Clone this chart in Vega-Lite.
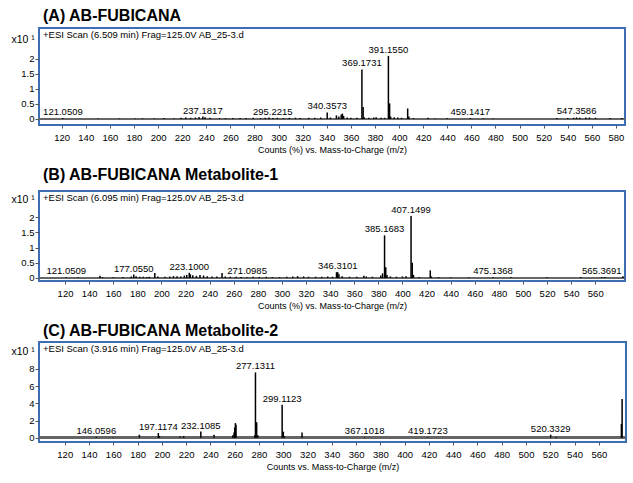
{
  "$schema": "https://vega.github.io/schema/vega-lite/v6.json",
  "padding": {"left": 10, "top": 6, "right": 8, "bottom": 4},
  "background": "white",
  "config": {
    "font": "Liberation Sans",
    "view": {"stroke": "#3d6db5", "strokeWidth": 2},
    "axis": {"labelFont": "Liberation Sans", "labelFontSize": 9.5, "labelColor": "#000", "labelOverlap": false, "labelFlush": false, "tickColor": "#555", "domain": false, "grid": false, "titleFont": "Liberation Sans", "titleFontWeight": "normal", "titleFontSize": 9, "titleColor": "#000", "tickSize": 3},
    "axisY": {"titleAngle": 0, "titleX": -28, "titleAlign": "left", "titleBaseline": "middle", "titleFontSize": 10.5, "tickSize": 4, "labelPadding": 1},
    "axisX": {"labelPadding": 4, "titlePadding": 4},
    "concat": {"spacing": 9},
    "title": {"anchor": "start", "frame": "group", "fontSize": 16, "fontWeight": "bold", "color": "#000", "subtitleFontSize": 9.5, "subtitleColor": "#000", "subtitleFont": "Liberation Sans", "offset": -11, "subtitlePadding": 6, "dx": 4}
  },
  "datasets": {
    "a": [
      {"mz": 121.0509, "i": 0.03, "lab": "121.0509"},
      {"mz": 150, "i": 0.02}, {"mz": 168, "i": 0.02}, {"mz": 181, "i": 0.02}, {"mz": 187, "i": 0.02},
      {"mz": 197, "i": 0.02}, {"mz": 205, "i": 0.03}, {"mz": 213, "i": 0.02}, {"mz": 219, "i": 0.04},
      {"mz": 223, "i": 0.05}, {"mz": 227, "i": 0.04}, {"mz": 231, "i": 0.05}, {"mz": 234, "i": 0.07},
      {"mz": 237.1817, "i": 0.08, "lab": "237.1817"},
      {"mz": 239, "i": 0.06}, {"mz": 243, "i": 0.04}, {"mz": 251, "i": 0.03}, {"mz": 256, "i": 0.03},
      {"mz": 262, "i": 0.03}, {"mz": 268, "i": 0.03}, {"mz": 273, "i": 0.03}, {"mz": 279, "i": 0.04},
      {"mz": 285, "i": 0.03}, {"mz": 289, "i": 0.04}, {"mz": 292, "i": 0.05},
      {"mz": 295.2215, "i": 0.03, "lab": "295.2215"},
      {"mz": 299, "i": 0.04}, {"mz": 304, "i": 0.03}, {"mz": 309, "i": 0.04}, {"mz": 314, "i": 0.04},
      {"mz": 318, "i": 0.03}, {"mz": 325, "i": 0.04}, {"mz": 330, "i": 0.04}, {"mz": 335, "i": 0.05},
      {"mz": 340.3573, "i": 0.22, "lab": "340.3573"},
      {"mz": 343, "i": 0.05}, {"mz": 348, "i": 0.12}, {"mz": 350, "i": 0.08}, {"mz": 352, "i": 0.15},
      {"mz": 353, "i": 0.18}, {"mz": 354, "i": 0.1}, {"mz": 357, "i": 0.05}, {"mz": 360, "i": 0.04},
      {"mz": 365, "i": 0.04},
      {"mz": 369.1731, "i": 1.65, "lab": "369.1731"},
      {"mz": 370.18, "i": 0.4}, {"mz": 371, "i": 0.06}, {"mz": 375, "i": 0.04}, {"mz": 379, "i": 0.05},
      {"mz": 381, "i": 0.06}, {"mz": 385, "i": 0.04}, {"mz": 388, "i": 0.04},
      {"mz": 391.155, "i": 2.1, "lab": "391.1550"},
      {"mz": 392.16, "i": 0.52}, {"mz": 393, "i": 0.08}, {"mz": 396, "i": 0.06}, {"mz": 399, "i": 0.05},
      {"mz": 402, "i": 0.04}, {"mz": 407.15, "i": 0.35}, {"mz": 408.15, "i": 0.08}, {"mz": 412, "i": 0.03},
      {"mz": 424, "i": 0.04}, {"mz": 430, "i": 0.02}, {"mz": 440, "i": 0.03},
      {"mz": 459.1417, "i": 0.03, "lab": "459.1417"},
      {"mz": 470, "i": 0.02}, {"mz": 478, "i": 0.02}, {"mz": 531, "i": 0.03}, {"mz": 540, "i": 0.03},
      {"mz": 545, "i": 0.04},
      {"mz": 547.3586, "i": 0.05, "lab": "547.3586"},
      {"mz": 550, "i": 0.04}, {"mz": 555, "i": 0.05}, {"mz": 558, "i": 0.05}, {"mz": 563, "i": 0.04},
      {"mz": 575, "i": 0.03}, {"mz": 585, "i": 0.03}
    ],
    "b": [
      {"mz": 121.0509, "i": 0.02, "lab": "121.0509"},
      {"mz": 131, "i": 0.02}, {"mz": 149, "i": 0.07}, {"mz": 151, "i": 0.03}, {"mz": 160, "i": 0.02},
      {"mz": 168, "i": 0.03}, {"mz": 175, "i": 0.05},
      {"mz": 177.055, "i": 0.11, "lab": "177.0550"},
      {"mz": 179, "i": 0.06}, {"mz": 182, "i": 0.04}, {"mz": 185, "i": 0.04}, {"mz": 188, "i": 0.03},
      {"mz": 190, "i": 0.04}, {"mz": 194.5, "i": 0.16}, {"mz": 197, "i": 0.05}, {"mz": 203, "i": 0.04},
      {"mz": 207, "i": 0.05}, {"mz": 210, "i": 0.06}, {"mz": 213, "i": 0.06}, {"mz": 216, "i": 0.05},
      {"mz": 219, "i": 0.08}, {"mz": 221, "i": 0.1},
      {"mz": 223.1, "i": 0.17, "lab": "223.1000"},
      {"mz": 224, "i": 0.12}, {"mz": 226, "i": 0.09}, {"mz": 229, "i": 0.07}, {"mz": 232, "i": 0.1},
      {"mz": 235, "i": 0.08}, {"mz": 238, "i": 0.06}, {"mz": 242, "i": 0.05}, {"mz": 246, "i": 0.05},
      {"mz": 250.3, "i": 0.16}, {"mz": 253, "i": 0.05}, {"mz": 257, "i": 0.04}, {"mz": 262, "i": 0.04},
      {"mz": 266, "i": 0.03},
      {"mz": 271.0985, "i": 0.02, "lab": "271.0985"},
      {"mz": 276, "i": 0.04}, {"mz": 281, "i": 0.03}, {"mz": 287, "i": 0.04}, {"mz": 292, "i": 0.03},
      {"mz": 298, "i": 0.03}, {"mz": 304, "i": 0.04}, {"mz": 309, "i": 0.05}, {"mz": 313, "i": 0.06},
      {"mz": 318, "i": 0.05}, {"mz": 322, "i": 0.04}, {"mz": 328, "i": 0.04}, {"mz": 333, "i": 0.04},
      {"mz": 338, "i": 0.05}, {"mz": 342, "i": 0.04}, {"mz": 345.3, "i": 0.19},
      {"mz": 346.3101, "i": 0.19, "lab": "346.3101"},
      {"mz": 347.3, "i": 0.12}, {"mz": 350, "i": 0.06}, {"mz": 356, "i": 0.04}, {"mz": 362, "i": 0.04},
      {"mz": 368, "i": 0.07}, {"mz": 370, "i": 0.05}, {"mz": 375, "i": 0.04}, {"mz": 382, "i": 0.08},
      {"mz": 383.5, "i": 0.15},
      {"mz": 385.1683, "i": 1.4, "lab": "385.1683"},
      {"mz": 386.17, "i": 0.35}, {"mz": 387.2, "i": 0.1}, {"mz": 390, "i": 0.05}, {"mz": 395, "i": 0.04},
      {"mz": 400, "i": 0.05}, {"mz": 403, "i": 0.06},
      {"mz": 407.1499, "i": 2.04, "lab": "407.1499"},
      {"mz": 408.15, "i": 0.5}, {"mz": 409.2, "i": 0.1}, {"mz": 414, "i": 0.03}, {"mz": 423.1, "i": 0.25},
      {"mz": 424, "i": 0.05}, {"mz": 430, "i": 0.03}, {"mz": 440, "i": 0.02}, {"mz": 455, "i": 0.02},
      {"mz": 475.1368, "i": 0.02, "lab": "475.1368"},
      {"mz": 490, "i": 0.02}, {"mz": 520, "i": 0.02}, {"mz": 548, "i": 0.03},
      {"mz": 565.3691, "i": 0.03, "lab": "565.3691"},
      {"mz": 568, "i": 0.03}, {"mz": 583, "i": 0.06}
    ],
    "c": [
      {"mz": 146.0596, "i": 0.1, "lab": "146.0596"},
      {"mz": 160, "i": 0.05}, {"mz": 181.5, "i": 0.35},
      {"mz": 197.1174, "i": 0.55, "lab": "197.1174"},
      {"mz": 198, "i": 0.2}, {"mz": 215, "i": 0.15}, {"mz": 218, "i": 0.2},
      {"mz": 232.1085, "i": 0.72, "lab": "232.1085"},
      {"mz": 243, "i": 0.35}, {"mz": 258.5, "i": 0.3}, {"mz": 259.5, "i": 0.6}, {"mz": 260.1, "i": 1.2},
      {"mz": 260.6, "i": 1.7}, {"mz": 261.1, "i": 1.5}, {"mz": 276.6, "i": 0.3},
      {"mz": 277.1311, "i": 7.6, "lab": "277.1311"},
      {"mz": 278.13, "i": 1.8}, {"mz": 279.1, "i": 0.3},
      {"mz": 299.1123, "i": 3.85, "lab": "299.1123"},
      {"mz": 300.11, "i": 0.7}, {"mz": 301, "i": 0.15}, {"mz": 315.5, "i": 0.6},
      {"mz": 367.1018, "i": 0.05, "lab": "367.1018"},
      {"mz": 419.1723, "i": 0.05, "lab": "419.1723"},
      {"mz": 520.3329, "i": 0.35, "lab": "520.3329"},
      {"mz": 525, "i": 0.1}, {"mz": 578.6, "i": 1.6}, {"mz": 579.2, "i": 4.5}
    ]
  },
  "vconcat": [
    {
      "width": 586, "height": 97,
      "title": {"text": "(A) AB-FUBICANA", "subtitle": "+ESI Scan (6.509 min) Frag=125.0V AB_25-3.d"},
      "data": {"name": "a"},
      "layer": [
        {"mark": {"type": "rule", "color": "#666", "strokeWidth": 2},
         "encoding": {"y": {"datum": 0, "type": "quantitative", "axis": {"values": [0, 0.5, 1, 1.5, 2], "format": "~g", "title": "x10 ¹", "titleY": 11}}}},
        {"mark": {"type": "rule", "color": "#000", "strokeWidth": 1.5},
         "encoding": {
           "x": {"field": "mz", "type": "quantitative", "scale": {"domain": [101.2, 587.5], "nice": false, "zero": false},
                 "axis": {"values": [120,140,160,180,200,220,240,260,280,300,320,340,360,380,400,420,440,460,480,500,520,540,560,580], "title": "Counts (%) vs. Mass-to-Charge (m/z)"}},
           "y": {"field": "i", "type": "quantitative", "scale": {"domain": [-0.2, 3.03], "nice": false, "zero": false},
                 "axis": {"values": [0, 0.5, 1, 1.5, 2], "format": "~g", "title": "x10 ¹", "titleY": 11}},
           "y2": {"datum": 0}
         }},
        {"transform": [{"filter": "datum.lab"}],
         "mark": {"type": "text", "fontSize": 9.5, "baseline": "alphabetic", "dy": -3, "color": "#000"},
         "encoding": {
           "x": {"field": "mz", "type": "quantitative", "axis": {"values": [120,140,160,180,200,220,240,260,280,300,320,340,360,380,400,420,440,460,480,500,520,540,560,580], "title": "Counts (%) vs. Mass-to-Charge (m/z)"}},
           "y": {"field": "i", "type": "quantitative", "axis": {"values": [0, 0.5, 1, 1.5, 2], "format": "~g", "title": "x10 ¹", "titleY": 11}},
           "text": {"field": "lab"}}}
      ]
    },
    {
      "width": 586, "height": 90,
      "title": {"text": "(B) AB-FUBICANA Metabolite-1", "subtitle": "+ESI Scan (6.095 min) Frag=125.0V AB_25-3.d", "subtitlePadding": 10},
      "data": {"name": "b"},
      "layer": [
        {"mark": {"type": "rule", "color": "#666", "strokeWidth": 2},
         "encoding": {"y": {"datum": 0, "type": "quantitative", "axis": {"values": [0, 0.5, 1, 1.5, 2], "format": "~g", "title": "x10 ¹", "titleY": 8}}}},
        {"mark": {"type": "rule", "color": "#000", "strokeWidth": 1.5},
         "encoding": {
           "x": {"field": "mz", "type": "quantitative", "scale": {"domain": [98.4, 584.7], "nice": false, "zero": false},
                 "axis": {"values": [120,140,160,180,200,220,240,260,280,300,320,340,360,380,400,420,440,460,480,500,520,540,560], "title": "Counts (%) vs. Mass-to-Charge (m/z)"}},
           "y": {"field": "i", "type": "quantitative", "scale": {"domain": [-0.1, 2.86], "nice": false, "zero": false},
                 "axis": {"values": [0, 0.5, 1, 1.5, 2], "format": "~g", "title": "x10 ¹", "titleY": 8}},
           "y2": {"datum": 0}
         }},
        {"transform": [{"filter": "datum.lab"}],
         "mark": {"type": "text", "fontSize": 9.5, "baseline": "alphabetic", "dy": -3, "color": "#000"},
         "encoding": {
           "x": {"field": "mz", "type": "quantitative", "axis": {"values": [120,140,160,180,200,220,240,260,280,300,320,340,360,380,400,420,440,460,480,500,520,540,560], "title": "Counts (%) vs. Mass-to-Charge (m/z)"}},
           "y": {"field": "i", "type": "quantitative", "axis": {"values": [0, 0.5, 1, 1.5, 2], "format": "~g", "title": "x10 ¹", "titleY": 8}},
           "text": {"field": "lab"}}}
      ]
    },
    {
      "width": 587, "height": 100,
      "title": {"text": "(C) AB-FUBICANA Metabolite-2", "subtitle": "+ESI Scan (3.916 min) Frag=125.0V AB_25-3.d", "subtitlePadding": 5},
      "data": {"name": "c"},
      "layer": [
        {"mark": {"type": "rule", "color": "#666", "strokeWidth": 2},
         "encoding": {"y": {"datum": 0, "type": "quantitative", "axis": {"values": [0, 2, 4, 6, 8], "format": "~g", "title": "x10 ¹", "titleY": 9}}}},
        {"mark": {"type": "rule", "color": "#000", "strokeWidth": 1.5},
         "encoding": {
           "x": {"field": "mz", "type": "quantitative", "scale": {"domain": [98.8, 582.4], "nice": false, "zero": false},
                 "axis": {"values": [120,140,160,180,200,220,240,260,280,300,320,340,360,380,400,420,440,460,480,500,520,540,560], "title": "Counts vs. Mass-to-Charge (m/z)"}},
           "y": {"field": "i", "type": "quantitative", "scale": {"domain": [-0.5, 11.14], "nice": false, "zero": false},
                 "axis": {"values": [0, 2, 4, 6, 8], "format": "~g", "title": "x10 ¹", "titleY": 9}},
           "y2": {"datum": 0}
         }},
        {"transform": [{"filter": "datum.lab"}],
         "mark": {"type": "text", "fontSize": 9.5, "baseline": "alphabetic", "dy": -3, "color": "#000"},
         "encoding": {
           "x": {"field": "mz", "type": "quantitative", "axis": {"values": [120,140,160,180,200,220,240,260,280,300,320,340,360,380,400,420,440,460,480,500,520,540,560], "title": "Counts vs. Mass-to-Charge (m/z)"}},
           "y": {"field": "i", "type": "quantitative", "axis": {"values": [0, 2, 4, 6, 8], "format": "~g", "title": "x10 ¹", "titleY": 9}},
           "text": {"field": "lab"}}}
      ]
    }
  ]
}
